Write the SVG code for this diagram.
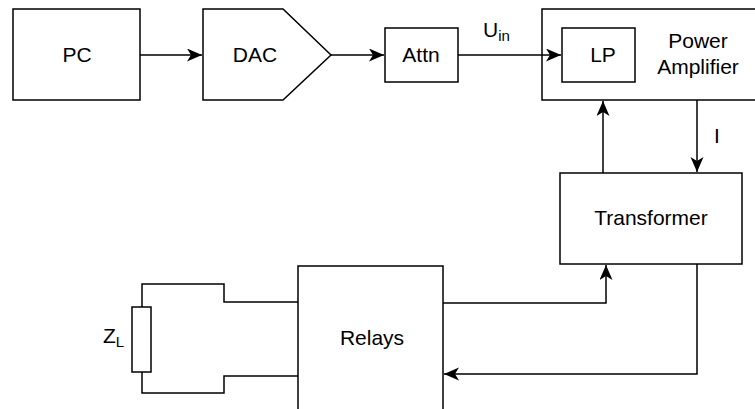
<svg xmlns="http://www.w3.org/2000/svg" width="755" height="409" viewBox="0 0 755 409">
<style>
.box{fill:#fff;stroke:#000;stroke-width:1.5}
.ln{fill:none;stroke:#000;stroke-width:1.5}
text{font-family:"Liberation Sans",Arial,sans-serif;font-size:21px;fill:#000}
.c{text-anchor:middle}
.sub{font-size:15px}
</style>
<defs>
<marker id="arr" markerUnits="userSpaceOnUse" markerWidth="16" markerHeight="14" refX="15" refY="6.5" orient="auto">
<path d="M0,0 L15,6.5 L0,13 L4,6.5 Z" fill="#000"/>
</marker>
</defs>
<g id="pc"><rect class="box" x="13" y="9" width="127" height="91"/><text class="c" x="77" y="62">PC</text></g>
<g id="dac"><path class="box" d="M203,9 H283 L331,55 L283,100 H203 Z"/><text class="c" x="255" y="62">DAC</text></g>
<g id="attn"><rect class="box" x="385" y="28" width="73" height="54"/><text class="c" x="421" y="62">Attn</text></g>
<g id="power-amplifier"><rect class="box" x="542" y="9" width="220" height="91"/><text class="c" x="698" y="48">Power</text><text class="c" x="698" y="74">Amplifier</text></g>
<g id="lp"><rect class="box" x="562" y="28" width="73" height="54"/><text class="c" x="603" y="62">LP</text></g>
<g id="transformer"><rect class="box" x="560" y="173" width="182" height="91"/><text class="c" x="651" y="225">Transformer</text></g>
<g id="relays"><rect class="box" x="298" y="266" width="145" height="160"/><text class="c" x="372" y="345">Relays</text></g>
<g id="zl"><rect class="box" x="132" y="307" width="19" height="65"/><text x="103" y="343">Z<tspan class="sub" dy="4">L</tspan></text></g>
<g id="connectors">
<path class="ln" d="M140,55 H202" marker-end="url(#arr)"/>
<path class="ln" d="M331,55 H384" marker-end="url(#arr)"/>
<path class="ln" d="M458,55 H561" marker-end="url(#arr)"/>
<path class="ln" d="M603,173 V101" marker-end="url(#arr)"/>
<path class="ln" d="M697,100 V172" marker-end="url(#arr)"/>
<path class="ln" d="M443,303 H606 V265" marker-end="url(#arr)"/>
<path class="ln" d="M697,264 V374 H444" marker-end="url(#arr)"/>
<path class="ln" d="M298,302 H224 V284 H142 V307"/>
<path class="ln" d="M142,372 V393 H224 V376 H298"/>
<text x="483" y="37">U<tspan class="sub" dy="4">in</tspan></text>
<text x="714" y="143">I</text>
</g>
</svg>
